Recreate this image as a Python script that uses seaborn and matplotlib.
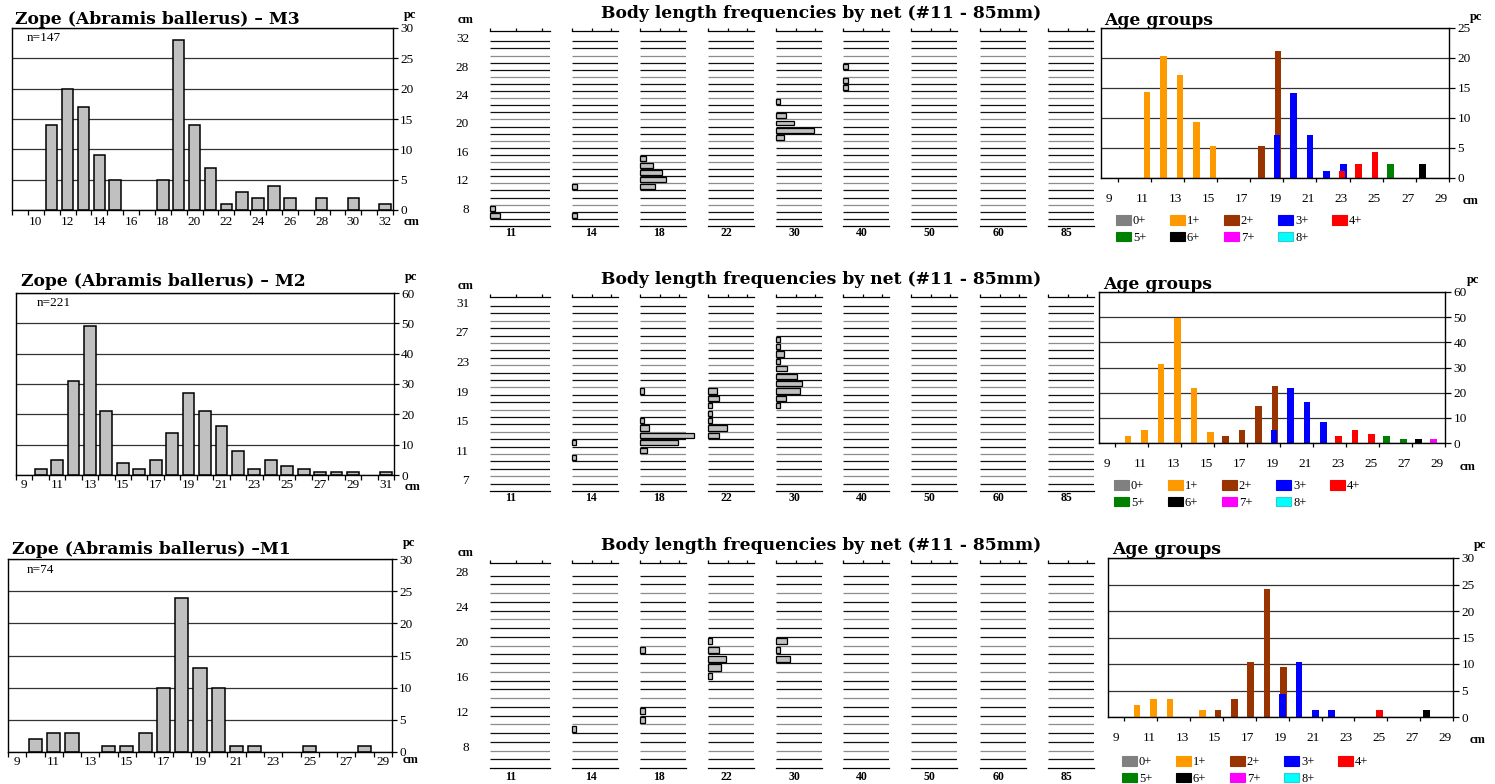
import numpy as np
import matplotlib
matplotlib.use("Agg")
import matplotlib.pyplot as plt
from matplotlib.patches import Patch
import seaborn as sns

sns.set_style("white")
plt.rcParams["font.family"] = ["Liberation Serif", "DejaVu Serif"]
plt.rcParams["text.color"] = "black"
plt.rcParams["xtick.color"] = "black"
plt.rcParams["ytick.color"] = "black"

W, H = 1495, 784

# Length-frequency histograms (% of catch per 1 cm class)
m3_cm = list(range(9, 33))
m3_pct = [0, 0, 14, 20, 17, 9, 5, 0, 0, 5, 28, 14, 7, 1, 3, 2, 4, 2, 0, 2, 0, 2, 0, 1]
m2_cm = list(range(9, 32))
m2_pct = [0, 2, 5, 31, 49, 21, 4, 2, 5, 14, 27, 21, 16, 8, 2, 5, 3, 2, 1, 1, 1, 0, 1]
m1_cm = list(range(9, 30))
m1_pct = [0, 2, 3, 3, 0, 1, 1, 3, 10, 24, 13, 10, 1, 1, 0, 0, 1, 0, 0, 1, 0]

# Body length by net (mesh size), bar length on the small 0-20 scale
nets = ["11", "14", "18", "22", "30", "40", "50", "60", "85"]
m3_net_cm = {"11": [8, 7], "14": [11, 7], "18": [15, 14, 13, 12, 11],
             "30": [23, 21, 20, 19, 18], "40": [28, 26, 25]}
m3_net_len = {"11": [1.9, 3.8], "14": [2.5, 2.5], "18": [3.1, 6.6, 11.0, 13.4, 7.7],
              "30": [2.1, 5.0, 9.1, 19.5, 3.9], "40": [2.5, 2.5, 2.5]}
m2_net_cm = {"14": [12, 10], "18": [19, 15, 14, 13, 12, 11],
             "22": [19, 18, 17, 16, 15, 14, 13],
             "30": [26, 25, 24, 23, 22, 21, 20, 19, 18, 17]}
m2_net_len = {"14": [2.1, 2.1], "18": [2.1, 2.1, 4.6, 27.1, 19.3, 3.7],
              "22": [4.6, 5.6, 2.1, 2.1, 2.1, 9.7, 5.6],
              "30": [2.1, 2.1, 3.9, 2.1, 5.6, 10.8, 13.1, 12.3, 5.0, 2.1]}
m1_net_cm = {"14": [10], "18": [19, 12, 11], "22": [20, 19, 18, 17, 16], "30": [20, 19, 18]}
m1_net_len = {"14": [2.1], "18": [2.3, 2.3, 2.3], "22": [2.1, 5.8, 9.0, 6.4, 2.1],
              "30": [5.6, 2.1, 7.3]}

# Age groups (% per cm class)
age_groups = ["0+", "1+", "2+", "3+", "4+", "5+", "6+", "7+", "8+"]
age_colors = ["#808080", "#FF9900", "#993300", "#0000FF", "#FF0000",
              "#008000", "#000000", "#FF00FF", "#00FFFF"]
m3_age_cm = {"1+": [11, 12, 13, 14, 15], "2+": [18, 19], "3+": [19, 20, 21, 22, 23],
             "4+": [23, 24, 25], "5+": [26], "6+": [28]}
m3_age_pct = {"1+": [14.3, 20.3, 17.2, 9.3, 5.3], "2+": [5.3, 21.2],
              "3+": [7.2, 14.2, 7.2, 1.2, 2.3], "4+": [1.2, 2.3, 4.3], "5+": [2.3], "6+": [2.3]}
m2_age_cm = {"1+": [10, 11, 12, 13, 14, 15], "2+": [16, 17, 18, 19], "3+": [19, 20, 21, 22],
             "4+": [23, 24, 25], "5+": [26, 27], "6+": [28], "7+": [29]}
m2_age_pct = {"1+": [2.7, 5.3, 31.4, 49.6, 21.7, 4.4], "2+": [2.7, 5.3, 14.6, 22.6],
              "3+": [5.3, 21.7, 16.4, 8.4], "4+": [2.7, 5.3, 3.5], "5+": [2.7, 1.5],
              "6+": [1.5], "7+": [1.5]}
m1_age_cm = {"1+": [10, 11, 12, 14], "2+": [15, 16, 17, 18, 19], "3+": [19, 20, 21, 22],
             "4+": [25], "6+": [28]}
m1_age_pct = {"1+": [2.3, 3.4, 3.4, 1.4], "2+": [1.4, 3.4, 10.3, 24.2, 9.4],
              "3+": [4.3, 10.3, 1.4, 1.4], "4+": [1.4], "6+": [1.4]}

rows = [
    dict(title="Zope (Abramis ballerus) – M3", title_xy=(15, 24), n="n=147", n_xy=(27, 38),
         cm=m3_cm, pct=m3_pct, box=(12, 28, 393, 210), ymax=30, ystep=5, first=10, pad=4,
         pc_y=15, cm_y=222,
         net_top=31, net_bot=226, net_ytop=32.95, net_labels=[32, 28, 24, 20, 16, 12, 8],
         net_cm=m3_net_cm, net_len=m3_net_len, net_title_y=18, net_cm_y=20, net_lab_y=233,
         age_box=(1101, 28, 1449, 178), age_ymax=25, age_ystep=5,
         age_cm=m3_age_cm, age_pct=m3_age_pct,
         age_title_xy=(1104, 25), age_pc_xy=(1476, 17), age_cm_xy=(1463, 201), leg_xy=(1116, 215)),
    dict(title="Zope (Abramis ballerus) – M2", title_xy=(21, 286), n="n=221", n_xy=(37, 303),
         cm=m2_cm, pct=m2_pct, box=(16, 293, 394, 475), ymax=60, ystep=10, first=9, pad=3,
         pc_y=277, cm_y=487,
         net_top=297, net_bot=491, net_ytop=31.7, net_labels=[31, 27, 23, 19, 15, 11, 7],
         net_cm=m2_net_cm, net_len=m2_net_len, net_title_y=284, net_cm_y=286, net_lab_y=498,
         age_box=(1099, 292, 1445, 443), age_ymax=60, age_ystep=10,
         age_cm=m2_age_cm, age_pct=m2_age_pct,
         age_title_xy=(1103, 289), age_pc_xy=(1473, 280), age_cm_xy=(1460, 467), leg_xy=(1114, 480)),
    dict(title="Zope (Abramis ballerus) –M1", title_xy=(12, 554), n="n=74", n_xy=(27, 570),
         cm=m1_cm, pct=m1_pct, box=(8, 559, 392, 752), ymax=30, ystep=5, first=9, pad=3,
         pc_y=543, cm_y=760,
         net_top=563, net_bot=768, net_ytop=28.95, net_labels=[28, 24, 20, 16, 12, 8],
         net_cm=m1_net_cm, net_len=m1_net_len, net_title_y=550, net_cm_y=553, net_lab_y=777,
         age_box=(1108, 558, 1453, 717), age_ymax=30, age_ystep=5,
         age_cm=m1_age_cm, age_pct=m1_age_pct,
         age_title_xy=(1112, 554), age_pc_xy=(1480, 545), age_cm_xy=(1470, 740), leg_xy=(1122, 756)),
]

net_lefts = [490, 572, 640, 708, 776, 843, 911, 980, 1048]
# the original titles are letter-spaced; the wider DejaVu Serif gets closer to their extent
TITLE = dict(fontsize=12.3, fontweight="bold", va="baseline", family=["DejaVu Serif"])
TICK = 9.5

fig = plt.figure(figsize=(W / 100, H / 100), dpi=100)


def px_axes(l, t, r, b):
    return fig.add_axes([l / W, 1 - b / H, (r - l) / W, (b - t) / H])


def ftext(x, y, s, **kw):
    fig.text(x / W, 1 - y / H, s, **kw)


def native_unit(v):
    d = np.diff(np.sort(np.asarray(v, dtype=float)))
    return d.min() if len(d) else 1.0


def frame(ax, lw=1.0):
    for sp in ax.spines.values():
        sp.set_color("black")
        sp.set_linewidth(lw)


def draw_hist(r):
    ax = px_axes(*r["box"])
    cm = np.array(r["cm"])
    pct = np.array(r["pct"], dtype=float)
    keep = pct > 0
    sns.barplot(x=cm[keep], y=pct[keep], native_scale=True,
                width=0.72 / native_unit(cm[keep]), color="#C0C0C0", saturation=1,
                edgecolor="black", linewidth=1.1, errorbar=None, ax=ax)
    ax.set(xlabel="", ylabel="")
    ax.set_xlim(cm[0] - 0.5, cm[-1] + 0.5)
    ax.set_ylim(0, r["ymax"])
    ax.set_axisbelow(True)
    ax.grid(True, axis="y", color="#333333", lw=0.9)
    ax.grid(False, axis="x")
    ax.set_yticks(np.arange(0, r["ymax"] + 1, r["ystep"]))
    ax.tick_params(axis="y", left=False, right=True, labelleft=False, labelright=True,
                   length=3.6, width=0.9, pad=1.5, direction="out", labelsize=TICK, colors="black")
    labs = np.arange(r["first"], cm[-1] + 1, 2)
    ax.set_xticks(labs, [str(v) for v in labs])
    ax.set_xticks(np.arange(cm[0] - 0.5, cm[-1] + 1, 1.0), minor=True)
    ax.tick_params(axis="x", which="major", bottom=True, length=0, pad=r["pad"], labelsize=TICK)
    ax.tick_params(axis="x", which="minor", bottom=True, length=3.5, width=0.9, direction="out")
    frame(ax)
    l, t, rr, b = r["box"]
    ftext(*r["title_xy"], r["title"], ha="left", **TITLE)
    ftext(*r["n_xy"], r["n"], ha="left", va="center", fontsize=TICK)
    ftext(rr + 11, r["pc_y"], "pc", ha="left", va="center", fontsize=9, fontweight="bold")
    ftext(rr + 11, r["cm_y"], "cm", ha="left", va="center", fontsize=9, fontweight="bold")


def draw_nets(r):
    top_cat = r["net_labels"][0]
    edges = np.arange(6.5, top_cat, 1.0)
    cols = ["#111111" if (len(edges) - 1 - j) % 3 != 2 else "#8c8c8c" for j in range(len(edges))]
    for i, (net, left) in enumerate(zip(nets, net_lefts)):
        w = 60 if i == 0 else 46
        ax = px_axes(left, r["net_top"], left + w, r["net_bot"])
        ax.hlines(edges, 0, 1, transform=ax.get_yaxis_transform(), colors=cols, lw=0.9, zorder=0.5)
        if net in r["net_cm"]:
            cms = r["net_cm"][net]
            sns.barplot(x=r["net_len"][net], y=cms, orient="h", native_scale=True,
                        width=0.7 / native_unit(cms), color="#C0C0C0", saturation=1,
                        edgecolor="black", linewidth=0.9, errorbar=None, ax=ax)
            for p in ax.patches:
                p.set_clip_on(False)
        ax.set(xlabel="", ylabel="")
        ax.set_xlim(0, 23.3)
        ax.set_ylim(5.5, r["net_ytop"])
        for side in ("left", "right"):
            ax.spines[side].set_visible(False)
        for side in ("top", "bottom"):
            ax.spines[side].set_color("black")
            ax.spines[side].set_linewidth(0.9)
        ax.set_xticks([0, 10, 20])
        ax.tick_params(axis="x", top=True, bottom=False, labeltop=False, labelbottom=False,
                       length=2.5, width=0.9, direction="out")
        if i == 0:
            ax.set_yticks(r["net_labels"])
            ax.tick_params(axis="y", left=False, right=False, length=0, pad=15, labelsize=TICK)
        else:
            ax.set_yticks([])
        frac = 0.35 if i == 0 else 0.41
        ftext(left + frac * w, r["net_lab_y"], net, ha="center", va="center",
              fontsize=8.5, fontweight="bold")
    ftext(466, r["net_cm_y"], "cm", ha="center", va="center", fontsize=9, fontweight="bold")
    ftext(821, r["net_title_y"], "Body length frequencies by net (#11 - 85mm)", ha="center", **TITLE)


def draw_age(r):
    ax = px_axes(*r["age_box"])
    for i, (grp, col) in enumerate(zip(age_groups, age_colors)):
        if grp not in r["age_cm"]:
            continue
        x = np.array(r["age_cm"][grp], dtype=float) + (0.34 - 0.075 * i)
        sns.barplot(x=x, y=r["age_pct"][grp], native_scale=True, width=0.4 / native_unit(x),
                    color=col, saturation=1, linewidth=0, errorbar=None, ax=ax)
    ax.set(xlabel="", ylabel="")
    ax.set_xlim(8.5, 29.5)
    ax.set_ylim(0, r["age_ymax"])
    ax.set_axisbelow(True)
    ax.grid(True, axis="y", color="#333333", lw=0.9)
    ax.grid(False, axis="x")
    ax.set_yticks(np.arange(0, r["age_ymax"] + 1, r["age_ystep"]))
    ax.tick_params(axis="y", left=False, right=True, labelleft=False, labelright=True,
                   length=4.5, width=0.9, pad=1.5, direction="out", labelsize=TICK, colors="black")
    labs = np.arange(9, 30, 2)
    ax.set_xticks(labs, [str(v) for v in labs])
    ax.set_xticks(np.arange(9.5, 30, 2.0), minor=True)
    ax.tick_params(axis="x", which="major", bottom=True, length=0, pad=10.5, labelsize=TICK)
    ax.tick_params(axis="x", which="minor", bottom=True, length=3, width=0.9, direction="out")
    frame(ax)
    ftext(*r["age_title_xy"], "Age groups", ha="left", **TITLE)
    ftext(*r["age_pc_xy"], "pc", ha="center", va="center", fontsize=9, fontweight="bold")
    ftext(*r["age_cm_xy"], "cm", ha="left", va="center", fontsize=9, fontweight="bold")

    handles = [Patch(facecolor=c, edgecolor=("#33CCCC" if g == "8+" else c), lw=0.8)
               for g, c in zip(age_groups, age_colors)]
    order = [0, 5, 1, 6, 2, 7, 3, 8, 4]
    lx, ly = r["leg_xy"]
    fig.legend([handles[k] for k in order], [age_groups[k] for k in order],
               loc="upper left", bbox_to_anchor=(lx / W, 1 - ly / H), ncol=5, frameon=False,
               borderpad=0, borderaxespad=0, handlelength=1.2, handleheight=0.8,
               handletextpad=0.15, columnspacing=1.9, labelspacing=0.35, fontsize=9)


for r in rows:
    draw_hist(r)
    draw_nets(r)
    draw_age(r)

fig.savefig("out.png", dpi=100)
